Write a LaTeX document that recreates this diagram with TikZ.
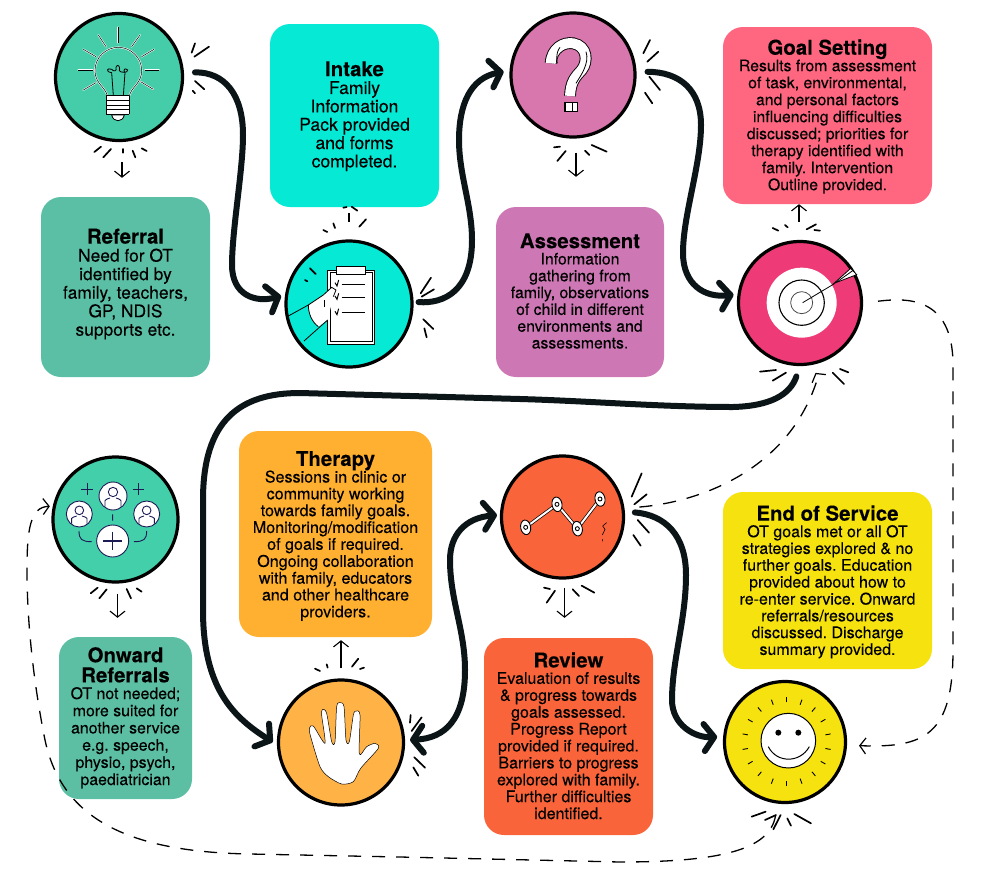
\documentclass[tikz,border=0pt]{standalone}
\usepackage{fontspec}
\setmainfont[FakeBold=0.15]{TeX Gyre Heros}
\usetikzlibrary{arrows.meta,calc}
\definecolor{cReferral}{HTML}{5BBFA5}
\definecolor{cBulb}{HTML}{45CCA8}
\definecolor{cIntake}{HTML}{06E9D5}
\definecolor{cAssess}{HTML}{CD78B5}
\definecolor{cQuest}{HTML}{D876AE}
\definecolor{cGoal}{HTML}{FF6680}
\definecolor{cTarget}{HTML}{EE3A77}
\definecolor{cTherapy}{HTML}{FFB030}
\definecolor{cHand}{HTML}{FFB347}
\definecolor{cPeople}{HTML}{43CFA9}
\definecolor{cOnward}{HTML}{5CBFA3}
\definecolor{cReview}{HTML}{F9643A}
\definecolor{cEnd}{HTML}{F6E20E}
\definecolor{cInk}{HTML}{0B1518}
\definecolor{cNavy}{HTML}{1C1A55}
\tikzset{
  card/.style={rounded corners=20pt,inner sep=0pt,align=center,text=black},
  disc/.style={circle,draw=black,line width=3.2pt,inner sep=0pt},
  flow/.style={draw=cInk,line width=6pt,line cap=round,line join=round},
  flowtip/.style={-{Straight Barb[length=10pt,width=27pt,line width=6pt,round]}},
  flowboth/.style={{Straight Barb[length=10pt,width=27pt,line width=6pt,round]}-{Straight Barb[length=10pt,width=27pt,line width=6pt,round]}},
  dashflow/.style={draw=black,line width=1.3pt,dash pattern=on 13pt off 11pt,-{Straight Barb[length=6pt,width=16pt,line width=1.2pt]}},
  small/.style={draw=black,line width=1.1pt,-{Straight Barb[length=6pt,width=15pt,line width=1.1pt]}},
  spark/.style={draw=black,line width=1.7pt,line cap=round},
  halo/.style={draw=white,line width=.6pt,double=black,double distance=.5pt,line cap=round},
  thin ink/.style={draw=black,line width=.8pt},
  navy/.style={draw=cNavy,line width=.9pt},
  zoomed/.style={x=.33333pt,y=-.33333pt},
}
\newcommand{\tfont}{\fontsize{20.4pt}{23pt}\selectfont\bfseries}
\newcommand{\cardtext}[3]{\raisebox{#1}[0pt][0pt]{\begin{tabular}{@{}c@{}}#2\\[-.5pt]#3\end{tabular}}}
\newcommand{\bodysize}[2]{\fontsize{#1}{#2}\selectfont\frenchspacing}
\newcommand{\sparks}[1]{\foreach \a/\b/\c/\d in {#1} \draw[spark] (\a,\b)--(\c,\d);}
\begin{document}
\begin{tikzpicture}[x=1pt,y=-1pt]
\useasboundingbox (0,0) rectangle (985,889);
% cards
\node[card,fill=cReferral,minimum width=169pt,minimum height=180pt,font=\bodysize{17.4pt}{18.5pt}] (referral) at (125.5,287) {\cardtext{-2.3pt}{{\tfont Referral}}{Need for OT\\identified by\\family, teachers,\\GP, NDIS\\supports etc.}};
\node[card,fill=cIntake,minimum width=169pt,minimum height=183pt,font=\bodysize{17.6pt}{18.3pt}] (intake) at (354.5,115.5) {\cardtext{-5.9pt}{{\tfont Intake}}{Family\\Information\\Pack provided\\and forms\\completed.}};
\node[card,fill=cAssess,minimum width=168pt,minimum height=170pt,font=\bodysize{15.8pt}{16.8pt}] (assessment) at (580,292) {\cardtext{-5pt}{{\tfont Assessment}}{Information\\gathering from\\family, observations\\of child in different\\environments and\\assessments.}};
\node[card,fill=cGoal,minimum width=209pt,minimum height=177pt,font=\bodysize{15.8pt}{17pt}] (goal) at (827.5,115.5) {\cardtext{-5.5pt}{{\tfont Goal Setting}}{Results from assessment\\of task, environmental,\\and personal factors\\influencing difficulties\\discussed; priorities for\\therapy identified with\\family. Intervention\\Outline provided.}};
\node[card,fill=cTherapy,minimum width=193pt,minimum height=206pt,font=\bodysize{16.1pt}{16.8pt}] (therapy) at (335.5,534) {\cardtext{-7pt}{{\tfont Therapy}}{Sessions in clinic or\\community working\\towards family goals.\\Monitoring/modification\\of goals if required.\\Ongoing collaboration\\with family, educators\\and other healthcare\\providers.}};
\node[card,fill=cOnward,minimum width=133pt,minimum height=162pt,font=\bodysize{15.9pt}{17.2pt}] (onward) at (125.5,718) {\cardtext{-5pt}{{\tfont Onward}\\{\tfont Referrals}}{OT not needed;\\more suited for\\another service\\e.g. speech,\\physio, psych,\\paediatrician}};
\node[card,fill=cReview,minimum width=169pt,minimum height=197pt,font=\bodysize{16pt}{16.9pt}] (review) at (568.5,736.5) {\cardtext{-6pt}{{\tfont Review}}{Evaluation of results\\\& progress towards\\goals assessed.\\Progress Report\\provided if required.\\Barriers to progress\\explored with family.\\Further difficulties\\identified.}};
\node[card,fill=cEnd,minimum width=209pt,minimum height=177pt,font=\bodysize{16pt}{16.8pt}] (endservice) at (827.5,580.5) {\cardtext{-6.5pt}{{\tfont End of Service}}{OT goals met or all OT\\strategies explored \& no\\further goals. Education\\provided about how to\\re-enter service. Onward\\referrals/resources\\discussed. Discharge\\summary provided.}};
% discs
\node[disc,fill=cBulb,minimum size=127pt] (bulb) at (119,77) {};
\node[disc,fill=cIntake,minimum size=126pt] (clip) at (349,304) {};
\node[disc,fill=cQuest,minimum size=124pt] (quest) at (573,75) {};
\node[disc,fill=cTarget,minimum size=123pt] (target) at (800,303) {};
\node[disc,fill=cPeople,minimum size=125pt] (people) at (115.5,519.5) {};
\node[disc,fill=cHand,minimum size=125pt] (hand) at (341,742.5) {};
\node[disc,fill=cReview,minimum size=122pt] (graph) at (562.5,517) {};
\node[disc,fill=cEnd,minimum size=121pt] (smile) at (785,742) {};
% main connectors
\draw[flow,flowtip,shorten <=11pt,shorten >=4pt] (bulb.4) .. controls (225,72) and (243,95) .. (243,135) .. controls (243,170) and (232,230) .. (232,265) .. controls (232,295) and (255,303) .. (clip.172);
\draw[flow,flowtip,shorten <=5pt,shorten >=6pt] (clip.2) .. controls (445,304) and (472,290) .. (472,240) .. controls (472,205) and (459,175) .. (459,140) .. controls (459,105) and (470,78) .. (quest.176);
\draw[flow,flowtip,shorten <=11pt,shorten >=4pt] (quest.3) .. controls (680,72) and (701,90) .. (701,125) .. controls (701,165) and (683,215) .. (683,253) .. controls (683,285) and (705,298) .. (target.172);
\draw[flow,flowtip,shorten <=11pt,shorten >=5pt] (target.270) .. controls (790,395) and (770,406) .. (733,407) .. controls (660,407) and (590,401) .. (520,399) -- (300,393) .. controls (240,393) and (203,420) .. (203,500) -- (203,610) .. controls (203,690) and (235,718) .. (hand.182);
\draw[flow,flowboth,shorten <=5pt,shorten >=3pt] (hand.2) .. controls (445,738) and (465,720) .. (465,670) .. controls (465,630) and (450,600) .. (450,560) .. controls (450,535) and (465,518) .. (graph.178);
\draw[flow,flowtip,shorten <=10pt,shorten >=6pt] (graph.5) .. controls (665,515) and (686,535) .. (686,575) .. controls (686,620) and (672,660) .. (672,700) .. controls (672,725) and (695,738) .. (smile.175);
% dashed connectors
\draw[dashflow,shorten <=15pt,shorten >=12pt] (target.0) .. controls (905,298) and (953,295) .. (953,365) -- (953,650) .. controls (953,735) and (925,748) .. (smile.-3);
\draw[dashflow,shorten <=15pt,shorten >=9pt] (graph.8) .. controls (700,502) and (790,470) .. (818,377) -- (target.280);
\draw[dashflow,shorten <=12pt,shorten >=3pt] (smile.263) .. controls (770,850) and (720,862) .. (620,862) -- (400,857) -- (250,854) .. controls (130,852) and (62,820) .. (45,740) .. controls (33,680) and (27,620) .. (27,570) .. controls (27,530) and (30,507) .. (people.168);
% small arrows
\draw[small,shorten <=20pt,shorten >=19pt] (bulb.south)++(3,0) coordinate (b0) (b0) -- (referral.north -| b0);
\draw[small,shorten <=14pt,shorten >=30pt] (quest.south)++(3,0) coordinate (q0) (q0) -- (assessment.north -| q0);
\draw[small,shorten <=18pt] (target) ++(-1,-63) coordinate (t0) (t0) -- (goal.south -| t0);
\draw[small,shorten <=10pt,shorten >=19pt] (people) ++(2,64) coordinate (p0) (p0) -- (onward.north -| p0);
\draw[small,shorten <=11pt,shorten >=3pt] (hand) ++(0,-64) coordinate (h0) (h0) -- (therapy.south -| h0);
\draw[small,shorten <=8pt,shorten >=20pt] (graph) ++(2,63) coordinate (g0) (g0) -- (review.north -| g0);
\draw[draw=black,line width=1.1pt] (intake.south -| clip) ++(0,6) -- ++(0,9);
% ---------- region 1
\begin{scope}[shift={(30,30)},zoomed]
\sparks{495/40/485/68,537/50/493/80,495/153/523/178,488/182/495/190,213/350/193/366,243/357/220/382,280/357/280/368,308/362/316/382,335/355/350/363,880/600/892/606,910/580/915/594,1008/568/988/590,940/533/950/531,965/530/982/542,1203/743/1172/790,1212/778/1175/800,1180/868/1210/897,1183/895/1190/922}
% bulb icon
\foreach \a/\b/\c/\d in {265/-8/265/38,205/15/228/50,330/15/305/50,160/58/198/80,372/58/335/80,145/120/188/120,345/120/387/120,160/180/198/158,370/178/332/155}
  \draw[halo] (\a,\b)--(\c,\d);
\draw[halo] (232,197) .. controls (225,170) and (195,160) .. (195,122) .. controls (195,80) and (230,52) .. (265,52) .. controls (300,52) and (335,80) .. (335,122) .. controls (335,160) and (305,170) .. (298,197);
\draw[thin ink] (250,197) -- (245,128) (280,197) -- (285,128) (245,128) .. controls (225,125) and (232,112) .. (245,118) .. controls (250,125) and (262,125) .. (258,112) .. controls (262,100) and (272,108) .. (268,122) .. controls (270,128) and (295,130) .. (293,120) .. controls (285,112) and (278,120) .. (285,128);
\fill[white] (228,197) rectangle (298,255);
\foreach \y in {197,211,225,239,253} \draw[black,line width=1pt,rounded corners=1pt] (228,\y) -- (298,\y);
\draw[thin ink] (228,197)--(228,253) (298,197)--(298,253);
\draw[thin ink,fill=white] (245,255) .. controls (250,278) and (278,278) .. (283,255) -- cycle;
% clipboard icon
\draw[thin ink,fill=white,line width=1pt] (893,720) rectangle (1035,943);
\draw[thin ink] (902,728) rectangle (1027,935);
\draw[thin ink,fill=white] (918,710) rectangle (1005,732);
\foreach \y in {762,802,848} {\draw[thin ink] (935,\y)--(1005,\y); \draw[black,line width=1pt] (915,\y-4)--(921,\y+6)--(926,\y-12);}
\fill[white] (835,825)--(880,795)--(905,772)--(918,780)--(910,800)--(893,870)--(865,890) .. controls (845,875) and (835,850) .. cycle;
\draw[thin ink] (775,858)--(835,825)--(880,795)--(905,772)--(918,780)--(910,800) (822,933)--(893,870);
\draw[thin ink] (835,825) .. controls (835,850) and (845,875) .. (865,890);
\draw[thin ink] (882,830)--(882,810);
\sparks{840/715/857/732,825/750/832/754}
\end{scope}
% ---------- region 2
\begin{scope}[shift={(480,20)},zoomed]
\sparks{510/60/490/100,535/95/502/125,508/170/540/210,495/218/517/250,222/382/240/380,257/393/232/423,315/392/328/405,335/375/380/395,878/624/895/632,915/615/923/622,980/628/1008/613,1003/630/1020/632,840/1055/888/1050,878/1082/918/1058,1080/1047/1105/1057,1058/1058/1092/1092}
% question
\draw[draw=black,line width=.9pt,double=white,double distance=10pt] (212,130) .. controls (215,85) and (250,65) .. (280,70) .. controls (322,78) and (325,125) .. (305,150) .. controls (285,172) and (272,185) .. (270,228);
\draw[thin ink] (240,82) .. controls (225,100) and (232,130) .. (232,130) (318,95) .. controls (330,130) and (300,170) .. (288,190);
\draw[thin ink,fill=white,line width=1.1pt] (255,248) rectangle (293,275);
\draw[thin ink] (278,248)--(278,275);
% target
\fill[white] (965,848) circle (105);
\draw[black,line width=1.1pt] (965,848) circle (68);
\draw[thin ink,draw=black!70] (965,848) circle (33);
\draw[thin ink] (968,848)--(1065,790);
\draw[thin ink,fill=white] (1062,790)--(1112,745)--(1130,764)--cycle;
\draw[thin ink] (1072,785)--(1118,752);
\end{scope}
% ---------- region 3
\begin{scope}[shift={(20,430)},zoomed]
\sparks{212/490/233/473,238/505/260/478,320/477/333/505,350/475/365/485,885/716/900/723,920/703/923/713,962/695/962/712,1015/686/996/710,1020/717/1032/713,1172/855/1170/878,1205/862/1175/903,1183/982/1215/1013,1180/1012/1195/1037}
% people icon
\foreach \cx/\cy/\r/\h in {279/198/42/14,178/252/39/13,380/252/39/13}{
  \draw[navy,fill=white] (\cx,\cy) circle (\r);
  \draw[navy] (\cx,\cy-\h+2) circle (\h);
  \draw[navy] (\cx-\h-10,\cy+\r-10) -- (\cx-\h-10,\cy+\h) .. controls (\cx-\h-10,\cy+10) and (\cx-\h,\cy+8) .. (\cx-\h+5,\cy+6) (\cx+\h+10,\cy+\r-10) -- (\cx+\h+10,\cy+\h) .. controls (\cx+\h+10,\cy+10) and (\cx+\h,\cy+8) .. (\cx+\h-5,\cy+6);
}
\draw[navy,fill=white] (278,333) circle (48);
\draw[navy,line width=1.1pt] (278,305)--(278,361) (250,333)--(306,333);
\draw[navy] (201,160)--(201,195) (184,177)--(219,177) (355,160)--(355,195) (338,177)--(373,177);
\draw[navy] (278,253)--(278,272) (177,303) .. controls (177,328) and (185,335) .. (215,335) (380,303) .. controls (380,328) and (372,335) .. (342,335);
% hand icon
\draw[fill=white,draw=black,line width=.5pt,line join=round] plot[smooth cycle,tension=.45] coordinates {(925,1040) (965,1062) (1000,1055) (1022,1015) (1075,955) (1065,940) (1040,950) (1018,972) (1020,855) (1008,843) (1000,855) (988,935) (978,930) (972,830) (960,818) (950,830) (945,935) (935,935) (920,850) (908,838) (905,855) (915,940) (880,888) (868,895) (872,920) (900,1010)};
\end{scope}
% ---------- region 4
\begin{scope}[shift={(470,440)},zoomed]
\sparks{515/100/485/170,530/163/493/193,503/240/537/278,490/285/512/317,222/443/240/447,255/452/230/488,308/448/327/468,335/437/373/458,845/1130/887/1115,885/1140/918/1125,932/1125/910/1168,952/1135/963/1157,973/1122/1023/1150}
% graph icon
\draw[draw=black,line width=.7pt,double=white,double distance=2pt] (167,262)--(261,193)--(322,266)--(390,177);
\foreach \x/\y in {167/262,261/193,322/266,390/177}{
  \draw[black,line width=.9pt,fill=white,rotate around={10:(\x,\y)}] (\x,\y) ellipse (15 and 22);
  \draw[black,line width=.9pt] (\x,\y) circle (6);
}
\draw[black,line width=.6pt] (410,248)--(398,258)--(405,268)--(397,285) (397,297)--(397,304);
% smile icon
\draw[thin ink,fill=white,line width=1pt] (955,902) circle (82);
\fill[black] (925,878) circle (9) (985,878) circle (9);
\draw[black,line width=1pt] (895,920) .. controls (920,970) and (990,970) .. (1018,920);
\foreach \a in {0,20,...,340}
  \draw[black,line width=.9pt] ($(950,905)+(\a+10:118 and 118)$) -- ($(950,905)+(\a+10:134 and 134)$);
\end{scope}
\end{tikzpicture}
\end{document}
